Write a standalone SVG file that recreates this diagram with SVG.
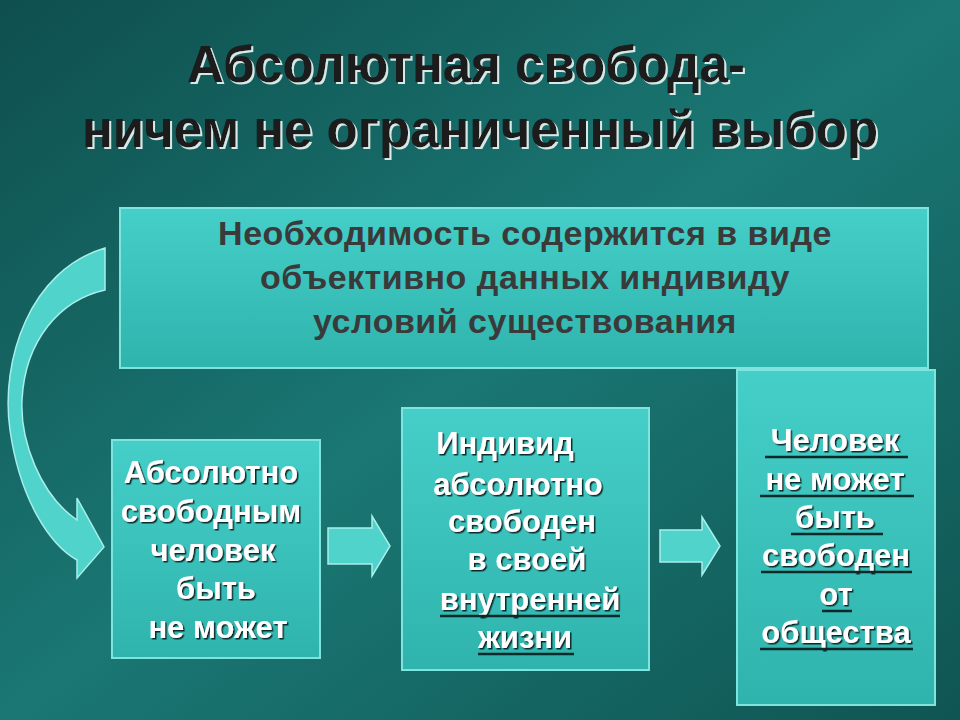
<svg xmlns="http://www.w3.org/2000/svg" width="960" height="720" viewBox="0 0 960 720">
<defs>
<linearGradient id="bg" x1="0" y1="0" x2="1" y2="1">
<stop offset="0" stop-color="#0e4f4e"/><stop offset="0.5" stop-color="#1a7773"/><stop offset="1" stop-color="#0f5553"/>
</linearGradient>
<linearGradient id="box" x1="0" y1="0" x2="0" y2="1">
<stop offset="0" stop-color="#45cfc8"/><stop offset="1" stop-color="#2fb3ad"/>
</linearGradient>
<filter id="ds" x="-5%" y="-20%" width="110%" height="140%"><feDropShadow dx="1.5" dy="1.5" stdDeviation="0.3" flood-color="#0a2a2a"/></filter>
<filter id="ls" x="-5%" y="-20%" width="110%" height="140%"><feDropShadow dx="2" dy="2" stdDeviation="0.5" flood-color="#d8e8e6"/></filter>
<style>
.box{fill:url(#box);stroke:#7fe3de;stroke-width:2}
.t{font-family:"Liberation Sans",Arial,sans-serif;font-weight:bold;text-anchor:middle}
.w{fill:#fff;font-size:31px;filter:url(#ds)}
.arr{fill:#4fd3cb;stroke:#a8eeea;stroke-width:1.5}
</style>
</defs>
<rect width="960" height="720" fill="url(#bg)"/>
<g id="title" class="t" font-size="51" fill="#1a1a1a" filter="url(#ls)">
<text x="466" y="82">Абсолютная свобода-</text>
<text x="480" y="147">ничем не ограниченный выбор</text>
</g>
<g id="top">
<rect class="box" x="120" y="208" width="808" height="160"/>
<g class="t" font-size="34" fill="#3a3a3a" letter-spacing="0.5">
<text x="525" y="245">Необходимость содержится в виде</text>
<text x="525" y="289">объективно данных индивиду</text>
<text x="525" y="333">условий существования</text>
</g>
</g>
<g id="connectors">
<path class="arr" d="M105,248 C30,270 0,360 10,430 C20,500 50,545 77,560 L77,578 L104,547 L77,498 L77,520 C40,495 20,440 22,400 C25,340 60,300 105,290 Z"/>
<path class="arr" d="M328,528 L372,528 L372,516 L390,546 L372,576 L372,564 L328,564 Z"/>
<path class="arr" d="M660,530 L702,530 L702,517 L720,546 L702,575 L702,562 L660,562 Z"/>
</g>
<g id="n1">
<rect class="box" x="112" y="440" width="208" height="218"/>
<g class="t w"><text x="211" y="483">Абсолютно</text><text x="211" y="522">свободным</text><text x="213" y="561">человек</text><text x="216" y="599">быть</text><text x="218" y="638">не может</text></g>
</g>
<g id="n2">
<rect class="box" x="402" y="408" width="247" height="262"/>
<g class="t w"><text x="505" y="454">Индивид</text><text x="518" y="495">абсолютно</text><text x="522" y="532">свободен</text><text x="527" y="570">в своей</text><text x="530" y="610">внутренней</text><text x="525" y="648">жизни</text></g>
<g stroke="#0a2a2a" stroke-width="2.5"><line x1="440" y1="616" x2="620" y2="616"/><line x1="478" y1="654" x2="574" y2="654"/></g>
</g>
<g id="n3">
<rect class="box" x="737" y="370" width="198" height="335"/>
<g class="t w"><text x="835" y="451">Человек</text><text x="835" y="490">не может</text><text x="835" y="528">быть</text><text x="836" y="566">свободен</text><text x="836" y="605">от</text><text x="836" y="643">общества</text></g>
<g stroke="#0a2a2a" stroke-width="2.5"><line x1="765" y1="457" x2="908" y2="457"/><line x1="760" y1="496" x2="914" y2="496"/><line x1="791" y1="534" x2="883" y2="534"/><line x1="761" y1="572" x2="912" y2="572"/><line x1="822" y1="611" x2="852" y2="611"/><line x1="760" y1="649" x2="913" y2="649"/></g>
</g>
</svg>
